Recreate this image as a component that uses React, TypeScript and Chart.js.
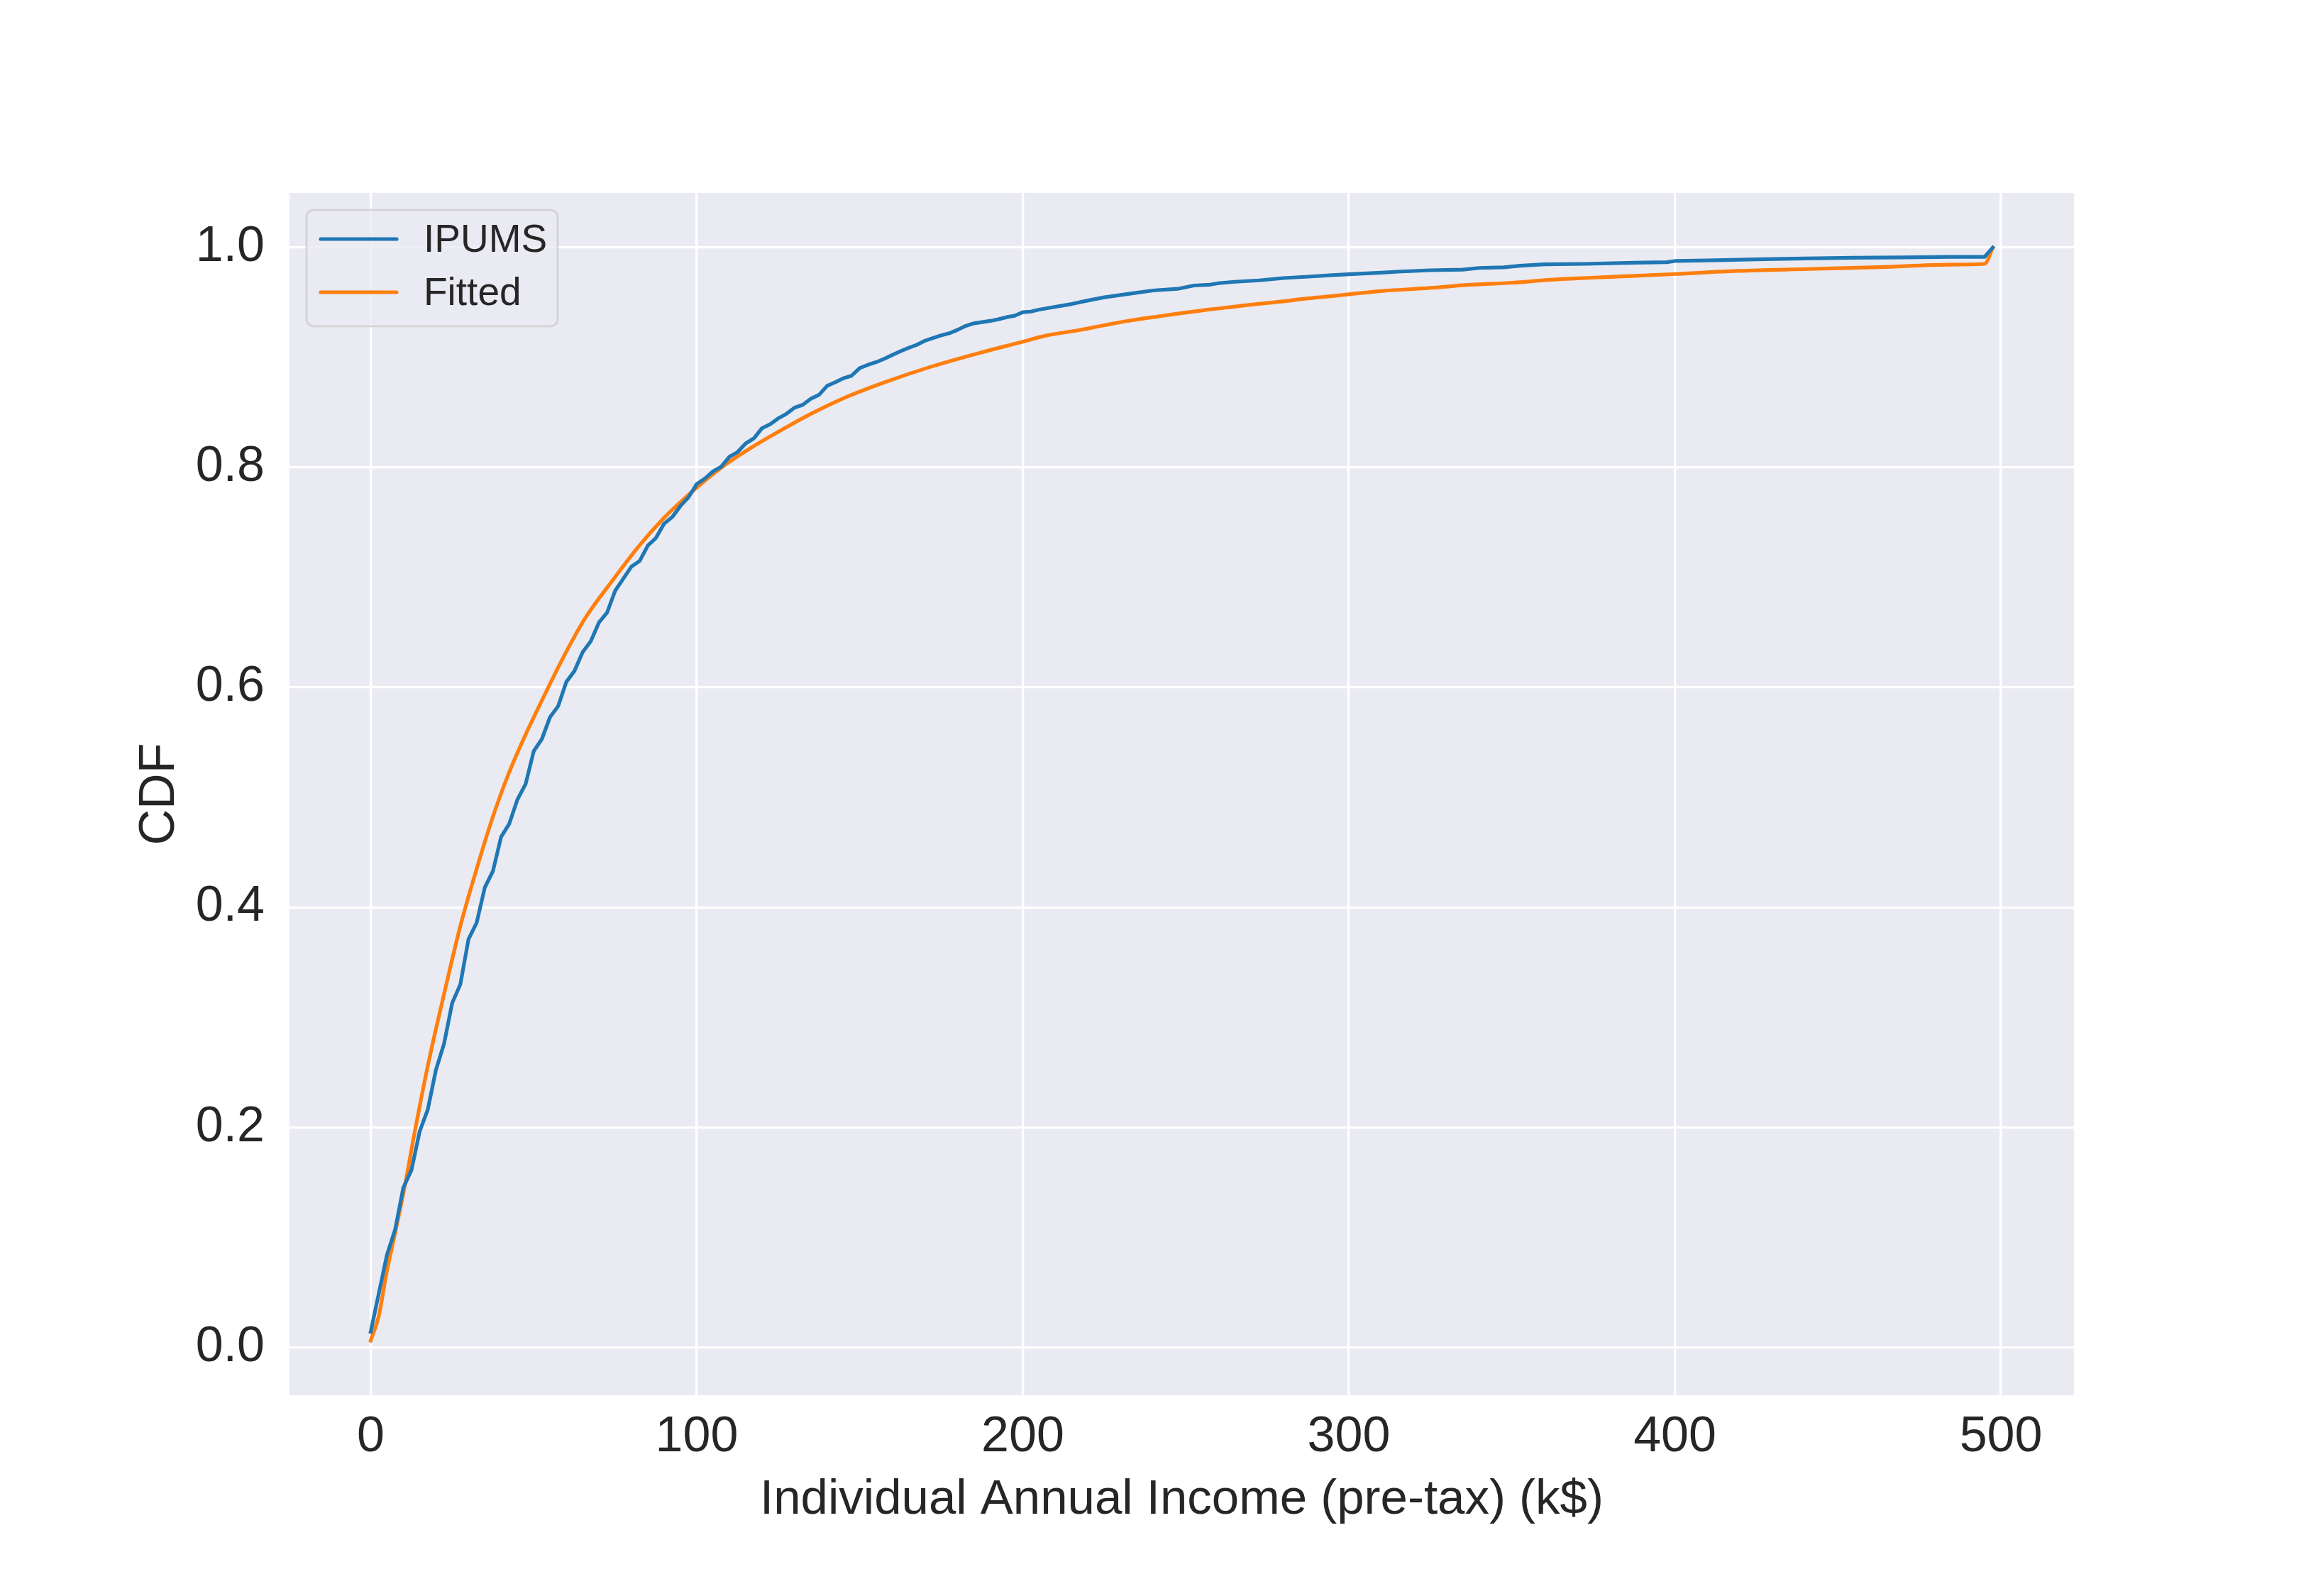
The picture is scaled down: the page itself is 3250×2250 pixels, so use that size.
import React, { useEffect, useRef } from "react";
import { Chart, registerables } from "chart.js";

Chart.register(...registerables);

const FONT_FAMILY = '"Liberation Sans", Arial, Helvetica, sans-serif';
const TEXT_COLOR = "#262626";

const X_TICKS = [0, 100, 200, 300, 400, 500];
const Y_TICKS = [0, 0.2, 0.4, 0.6, 0.8, 1.0];
const X_LABEL = "Individual Annual Income (pre-tax) (k$)";
const Y_LABEL = "CDF";
const SERIES_NAMES = ["IPUMS", "Fitted"];

const ipumsIncome = [
  0, 2.5, 5, 7.5, 10, 12.5, 15, 17.5, 20, 22.5, 25, 27.5, 30, 32.5, 35, 37.5, 40, 42.5, 45, 47.5,
  50, 52.5, 55, 57.5, 60, 62.5, 65, 67.5, 70, 72.5, 75, 77.5, 80, 82.5, 85, 87.5, 90, 92.5, 95, 97.5,
  100, 102.5, 105, 107.5, 110, 112.5, 115, 117.5, 120, 122.5, 125, 127.5, 130, 132.5, 135, 137.5,
  140, 142.5, 145, 147.5, 150, 152.5, 155, 157.5, 160, 162.5, 165, 167.5, 170, 172.5, 175, 177.5,
  180, 182.5, 185, 187.5, 190, 192.5, 195, 197.5, 200, 202.5, 205, 207.5,
  215, 220, 225, 235, 240, 247.5, 252.5, 257.5, 260, 265, 272.5, 280, 287.5, 295, 300,
  310, 315, 325, 335, 340, 347.5, 352.5, 360, 372.5, 387.5, 397.5, 400, 410, 427.5, 440,
  455, 470, 485, 495, 497.5,
];
const ipumsCdf = [
  0.014, 0.049, 0.084, 0.107, 0.145, 0.161, 0.196, 0.216, 0.252, 0.276, 0.313, 0.33, 0.371, 0.386,
  0.418, 0.433, 0.464, 0.476, 0.498, 0.512, 0.542, 0.553, 0.573, 0.583, 0.605, 0.615, 0.632, 0.642,
  0.659, 0.668, 0.688, 0.699, 0.71, 0.715, 0.729, 0.736, 0.749, 0.755, 0.765, 0.773,
  0.785, 0.79, 0.7965, 0.8007, 0.8097, 0.814, 0.8218, 0.8265, 0.8357, 0.8393, 0.8447, 0.8488,
  0.8544, 0.857, 0.8625, 0.8661, 0.8743, 0.8775, 0.8812, 0.8835, 0.8904, 0.8934, 0.8958, 0.8988,
  0.9024, 0.9058, 0.9088, 0.9116, 0.9153, 0.9178, 0.9202, 0.9221, 0.9252, 0.9288, 0.9311, 0.9322,
  0.9333, 0.9348, 0.9367, 0.938, 0.9412, 0.9418, 0.9436, 0.9449,
  0.9487, 0.9519, 0.9548, 0.959, 0.961, 0.9625, 0.9655, 0.9663, 0.9676, 0.9689, 0.9702, 0.9723,
  0.9736, 0.9749, 0.9757, 0.9772, 0.9781, 0.9794, 0.9799, 0.9815, 0.982, 0.9835, 0.9848, 0.9852,
  0.9863, 0.9867, 0.9878, 0.9884, 0.9895, 0.9901, 0.9907, 0.9911, 0.9916, 0.9916, 1.0,
];

const fittedIncome = [
  0, 2.5, 4.7, 7.5, 10.5, 13.4, 17.6, 22.5, 27.5, 32.5, 37.1, 42.1, 47.5, 52.5, 59.2, 65.8, 74.1,
  82.4, 89.9, 97.4, 107.6, 117.8, 128.6, 135.9, 146.7, 157.6, 172.1, 186.6, 200, 206.9, 217.7, 225,
  232.2, 241.6, 257.5, 264.8, 272.1, 279.3, 286.6, 293.8, 300, 310.5, 325, 335.8, 350.3, 361.2,
  372.1, 386.6, 400.3, 419.2, 441, 462.7, 484.5, 495, 497.5,
];
const fittedCdf = [
  0.006, 0.0285, 0.065, 0.104, 0.147, 0.194, 0.257, 0.321, 0.383, 0.435, 0.479, 0.52, 0.557, 0.588,
  0.628, 0.663, 0.697, 0.729, 0.754, 0.775, 0.8, 0.82, 0.8385, 0.8501, 0.8651, 0.8775, 0.8919,
  0.9041, 0.9144, 0.9198, 0.9252, 0.9294, 0.9333, 0.9374, 0.9438, 0.9462, 0.9488, 0.9509, 0.9535,
  0.9556, 0.9575, 0.9606, 0.9633, 0.9659, 0.9681, 0.9706, 0.9723, 0.9741, 0.976, 0.9788, 0.9805,
  0.9822, 0.9845, 0.9852, 1.0,
];

const SERIES_COLORS = ["#1f77b4", "#ff7f0e"];

const bgPlugin = {
  id: "axesBackground",
  beforeDraw(chart: any) {
    const { ctx, chartArea: a } = chart;
    ctx.save();
    ctx.fillStyle = "#EAEAF2";
    ctx.fillRect(a.left, a.top, a.right - a.left, a.bottom - a.top);
    ctx.restore();
  },
};

const legendPlugin = {
  id: "mplLegend",
  afterDraw(chart: any) {
    const { ctx, chartArea: a } = chart;
    const x0 = a.left + 24;
    const y0 = a.top + 24;
    const w = 354;
    const h = 164;
    ctx.save();
    ctx.beginPath();
    ctx.roundRect(x0, y0, w, h, 10);
    ctx.fillStyle = "rgba(234,234,242,0.8)";
    ctx.fill();
    ctx.lineWidth = 2.7;
    ctx.strokeStyle = "rgba(204,204,204,0.8)";
    ctx.stroke();
    chart.data.datasets.forEach((ds: any, i: number) => {
      const ly = y0 + 41 + i * 75;
      ctx.beginPath();
      ctx.moveTo(x0 + 20, ly);
      ctx.lineTo(x0 + 127, ly);
      ctx.strokeStyle = ds.borderColor;
      ctx.lineWidth = 5.2;
      ctx.lineCap = "round";
      ctx.stroke();
      ctx.fillStyle = TEXT_COLOR;
      ctx.font = `55px ${FONT_FAMILY}`;
      ctx.textBaseline = "alphabetic";
      ctx.textAlign = "left";
      ctx.fillText(ds.label, x0 + 165, y0 + 59 + i * 75);
    });
    ctx.restore();
  },
};

export default function App() {
  const canvasRef = useRef<HTMLCanvasElement | null>(null);

  useEffect(() => {
    const canvas = canvasRef.current;
    if (!canvas) return;

    const toPoints = (xs: number[], ys: number[]) => xs.map((x, i) => ({ x, y: ys[i] }));

    const chart = new Chart(canvas, {
      type: "line",
      data: {
        datasets: [
          {
            label: SERIES_NAMES[0],
            data: toPoints(ipumsIncome, ipumsCdf),
            borderColor: SERIES_COLORS[0],
            backgroundColor: SERIES_COLORS[0],
            borderWidth: 5.2,
            pointRadius: 0,
            fill: false,
            tension: 0,
            borderJoinStyle: "round",
            borderCapStyle: "square",
          },
          {
            label: SERIES_NAMES[1],
            data: toPoints(fittedIncome, fittedCdf),
            borderColor: SERIES_COLORS[1],
            backgroundColor: SERIES_COLORS[1],
            borderWidth: 5.2,
            pointRadius: 0,
            fill: false,
            cubicInterpolationMode: "monotone",
            borderJoinStyle: "round",
            borderCapStyle: "square",
          },
        ],
      },
      options: {
        responsive: false,
        animation: false,
        devicePixelRatio: 1,
        layout: { padding: { left: 0, top: 272, right: 327, bottom: 0 } },
        plugins: {
          legend: { display: false },
          tooltip: { enabled: false },
          title: { display: false },
        },
        scales: {
          x: {
            type: "linear",
            min: -24.9,
            max: 522.4,
            afterBuildTicks: (scale: any) => {
              scale.ticks = X_TICKS.map((v) => ({ value: v }));
            },
            afterFit: (scale: any) => {
              scale.height = 283;
            },
            ticks: {
              autoSkip: false,
              maxRotation: 0,
              padding: 18,
              color: TEXT_COLOR,
              font: { size: 70, family: FONT_FAMILY },
              callback: (v: any) => String(v),
            },
            grid: { color: "#ffffff", lineWidth: 3.3, drawTicks: false },
            border: { display: false },
            title: {
              display: true,
              text: X_LABEL,
              color: TEXT_COLOR,
              font: { size: 69, family: FONT_FAMILY },
              padding: { top: 0, bottom: 94 },
            },
          },
          y: {
            type: "linear",
            min: -0.0437,
            max: 1.0497,
            afterBuildTicks: (scale: any) => {
              scale.ticks = Y_TICKS.map((v) => ({ value: v }));
            },
            afterFit: (scale: any) => {
              scale.width = 408;
            },
            ticks: {
              autoSkip: false,
              padding: 35,
              color: TEXT_COLOR,
              font: { size: 70, family: FONT_FAMILY },
              callback: (v: any) => Number(v).toFixed(1),
            },
            grid: { color: "#ffffff", lineWidth: 3.3, drawTicks: false },
            border: { display: false },
            title: {
              display: true,
              text: Y_LABEL,
              color: TEXT_COLOR,
              font: { size: 70, family: FONT_FAMILY },
              padding: { top: 184, bottom: 0 },
            },
          },
        },
      },
      plugins: [bgPlugin, legendPlugin],
    } as any);

    return () => {
      chart.destroy();
    };
  }, []);

  return (
    <div style={{ position: "absolute", left: 0, top: 0, width: 3250, height: 2250, background: "#ffffff" }}>
      <canvas
        ref={canvasRef}
        width={3250}
        height={2250}
        style={{ display: "block", width: 3250, height: 2250 }}
      />
    </div>
  );
}
